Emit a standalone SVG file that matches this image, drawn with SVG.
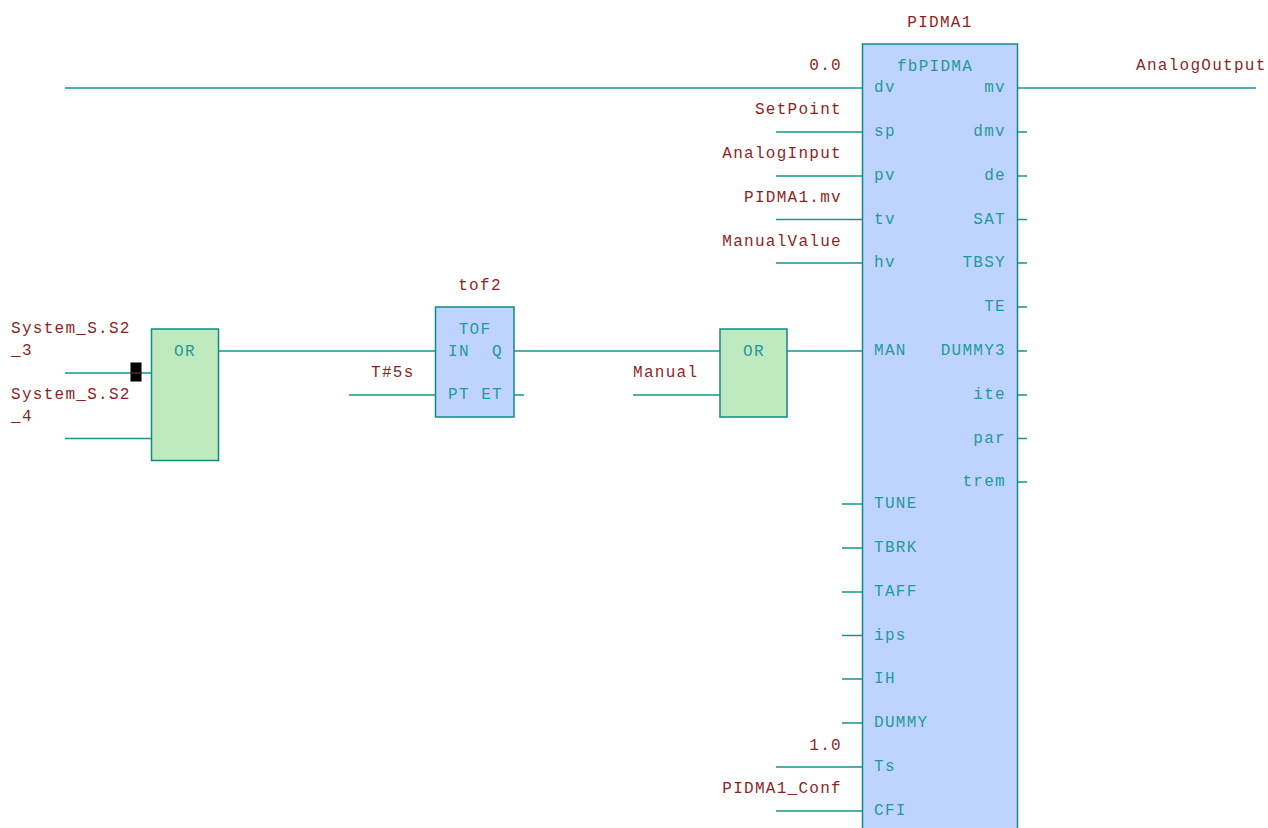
<svg xmlns="http://www.w3.org/2000/svg" width="1268" height="828" viewBox="0 0 1268 828">
<style>
text{font-family:"Liberation Mono",monospace;font-size:16px;letter-spacing:1.28px}
.v{fill:#8f1f1f}
.p{fill:#1f9a9a}
.e{text-anchor:end}
.m{text-anchor:middle}
.w{stroke:#169690;stroke-width:1.5;fill:none}
.g{fill:#bfe9bf;stroke:#0f8a84;stroke-width:1.5}
.b{fill:#bfd3ff;stroke:#0f8a84;stroke-width:1.5}
</style>
<rect width="1268" height="828" fill="#fff"/>
<g id="connectors">
<path class="w" d="M65 88H862M776 132H862M776 176H862M776 219.500H862M776 263H862M842 504H862M842 548H862M842 592H862M842 635.500H862M842 679H862M842 723H862M776 767H862M776 811H862"/>
<path class="w" d="M1017 88H1256M1017 132H1027M1017 176H1027M1017 219.500H1027M1017 263H1027M1017 307H1027M1017 351H1027M1017 395H1027M1017 438.500H1027M1017 482H1027"/>
<path class="w" d="M65 373H151M65 438.500H151M218 351H435M349 395H435M514 351H720M514 395H524M633 395H720M787 351H862"/>
</g>
<g id="marker"><rect x="130.500" y="362.500" width="11" height="19" fill="#000"/><path d="M131 373H141" stroke="#a33" stroke-width="1"/></g>
<g id="or1"><rect class="g" x="151.500" y="329" width="67" height="131.500"/><text class="p m" x="185" y="356">OR</text></g>
<g id="tof2"><rect class="b" x="435.500" y="307" width="78.500" height="110"/><text class="v m" x="480" y="290">tof2</text><text class="p m" x="475" y="334">TOF</text><text class="p" x="448" y="356">IN</text><text class="p e" x="503" y="356">Q</text><text class="p" x="448" y="399">PT</text><text class="p e" x="503" y="399">ET</text></g>
<g id="or2"><rect class="g" x="720" y="329" width="67" height="88"/><text class="p m" x="754" y="356">OR</text></g>
<g id="pidma1"><rect class="b" x="862.500" y="44" width="155" height="790"/>
<text class="v m" x="940" y="27">PIDMA1</text><text class="p m" x="935" y="71">fbPIDMA</text>
<text class="p" x="874" y="92">dv</text><text class="p" x="874" y="136">sp</text><text class="p" x="874" y="180">pv</text><text class="p" x="874" y="224">tv</text><text class="p" x="874" y="267">hv</text><text class="p" x="874" y="355">MAN</text><text class="p" x="874" y="508">TUNE</text><text class="p" x="874" y="552">TBRK</text><text class="p" x="874" y="596">TAFF</text><text class="p" x="874" y="640">ips</text><text class="p" x="874" y="683">IH</text><text class="p" x="874" y="727">DUMMY</text><text class="p" x="874" y="771">Ts</text><text class="p" x="874" y="815">CFI</text>
<text class="p e" x="1006" y="92">mv</text><text class="p e" x="1006" y="136">dmv</text><text class="p e" x="1006" y="180">de</text><text class="p e" x="1006" y="224">SAT</text><text class="p e" x="1006" y="267">TBSY</text><text class="p e" x="1006" y="311">TE</text><text class="p e" x="1006" y="355">DUMMY3</text><text class="p e" x="1006" y="399">ite</text><text class="p e" x="1006" y="443">par</text><text class="p e" x="1006" y="486">trem</text></g>
<g id="labels">
<text class="v e" x="842" y="70">0.0</text><text class="v e" x="842" y="114">SetPoint</text><text class="v e" x="842" y="158">AnalogInput</text><text class="v e" x="842" y="202">PIDMA1.mv</text><text class="v e" x="842" y="246">ManualValue</text><text class="v e" x="842" y="750">1.0</text><text class="v e" x="842" y="793">PIDMA1_Conf</text>
<text class="v" x="1136" y="70">AnalogOutput</text>
<text class="v" x="11" y="333">System_S.S2</text><text class="v" x="11" y="355">_3</text><text class="v" x="11" y="399">System_S.S2</text><text class="v" x="11" y="421">_4</text>
<text class="v" x="371" y="377">T#5s</text><text class="v" x="633" y="377">Manual</text>
</g>
</svg>
